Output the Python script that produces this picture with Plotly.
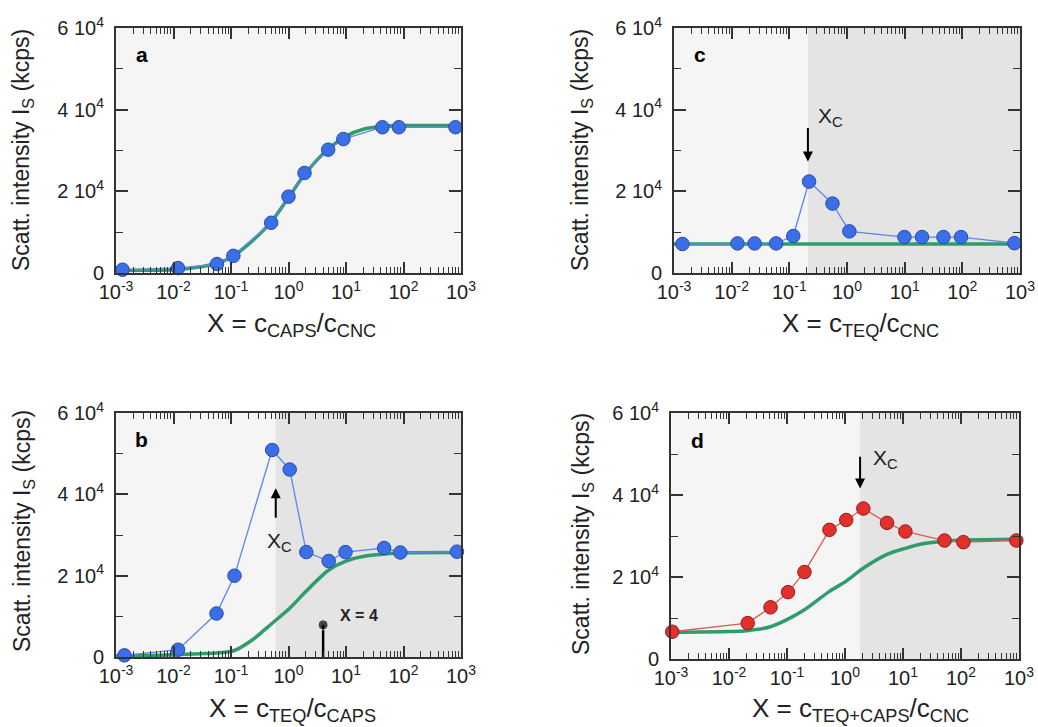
import plotly.graph_objects as go
import math

# ---------------- data ----------------
# Panel a: CAPS / CNC
xa = [0.0013, 0.012, 0.057, 0.11, 0.5, 1.0, 1.9, 4.9, 9.0, 43, 83, 800]
ya = [800, 1200, 2200, 4200, 12300, 18700, 24500, 30200, 32800, 35700, 35700, 35700]
xa_fit = [0.001, 0.003, 0.01, 0.03, 0.06, 0.1, 0.2, 0.5, 1, 2, 5, 10, 20, 50, 100, 300, 1000]
ya_fit = [600, 650, 800, 1500, 2500, 3800, 7000, 12500, 18500, 24500, 30500, 33500, 35200, 36000, 36100, 36100, 36100]

# Panel b: TEQ / CAPS
xb = [0.0014, 0.012, 0.056, 0.115, 0.52, 1.05, 2.04, 5.0, 9.8, 46, 88, 850]
yb = [400, 1800, 10700, 20000, 50900, 46100, 25800, 23600, 25800, 26800, 25700, 25900]
xb_fit = [0.001, 0.003, 0.01, 0.03, 0.056, 0.115, 0.24, 0.52, 1.05, 2, 5, 10, 23, 46, 88, 1000]
yb_fit = [250, 350, 550, 800, 1000, 1600, 4300, 8300, 12000, 16100, 21400, 23600, 24900, 25300, 25600, 25700]

# Panel c: TEQ / CNC
xc = [0.0014, 0.0126, 0.025, 0.059, 0.117, 0.22, 0.56, 1.1, 9.9, 20, 47, 95, 800]
yc = [7100, 7250, 7250, 7250, 9050, 22400, 17000, 10200, 8800, 8800, 8800, 8800, 7300]
xc_fit = [0.001, 1000]
yc_fit = [7100, 7100]

# Panel d: TEQ+CAPS / CNC
xd = [0.00105, 0.021, 0.052, 0.104, 0.2, 0.54, 1.05, 2.07, 5.3, 11, 52, 110, 900]
yd = [6650, 8750, 12600, 16300, 21200, 31500, 33900, 36700, 33200, 31100, 28900, 28500, 28900]
xd_fit = [0.001, 0.01, 0.02, 0.05, 0.1, 0.2, 0.54, 1.05, 2, 5.3, 11, 20, 52, 110, 1000]
yd_fit = [6500, 6700, 6900, 7800, 9600, 12000, 16500, 19000, 22000, 25500, 27000, 28000, 28700, 29000, 29200]

# critical ratios (start of shaded region) and markers
xc_b, xc_c, xc_d = 0.6, 0.21, 1.82
x_marker_b, y_marker_b = 4.0, 7900

# tick labels
x_tickvals = [0.001, 0.01, 0.1, 1, 10, 100, 1000]
x_ticktext = ["10<sup>-3</sup>", "10<sup>-2</sup>", "10<sup>-1</sup>", "10<sup>0</sup>",
              "10<sup>1</sup>", "10<sup>2</sup>", "10<sup>3</sup>"]
x_minor = [m * 10 ** k for k in range(-3, 3) for m in range(2, 10)]
y_tickvals = [0, 20000, 40000, 60000]
y_ticktext = ["0", "2 10<sup>4</sup>", "4 10<sup>4</sup>", "6 10<sup>4</sup>"]
y_minor = [10000, 30000, 50000]

FONT = "Liberation Sans, Arial, Helvetica, sans-serif"
BLUE = "#3a6fe8"
BLUE_EDGE = "#2a4aa8"
BLUE_LINE = "#5d86e8"
RED = "#e2302c"
RED_EDGE = "#8e1c1a"
RED_LINE = "#e05a55"
GREEN = "#2f9c6b"
AXC = "#333333"

# the page body margin is removed (post_script below), so the figure fills the window
W, H = 1038, 727


def px(x):
    return x / W


def py(y):
    return 1 - y / H


fig = go.Figure()

panels = [
    ("a", "x", "y", xa, ya, xa_fit, ya_fit, BLUE, BLUE_EDGE, BLUE_LINE),
    ("c", "x2", "y2", xc, yc, xc_fit, yc_fit, BLUE, BLUE_EDGE, BLUE_LINE),
    ("b", "x3", "y3", xb, yb, xb_fit, yb_fit, BLUE, BLUE_EDGE, BLUE_LINE),
    ("d", "x4", "y4", xd, yd, xd_fit, yd_fit, RED, RED_EDGE, RED_LINE),
]

for name, xr, yr, x, y, xf, yf, col, edge, lcol in panels:
    fig.add_trace(go.Scatter(x=xf, y=yf, mode="lines", xaxis=xr, yaxis=yr,
                             line=dict(color=GREEN, width=3.5, shape="spline", smoothing=0.8),
                             showlegend=False, hoverinfo="skip"))
    fig.add_trace(go.Scatter(x=x, y=y, mode="lines+markers", xaxis=xr, yaxis=yr,
                             line=dict(color=lcol, width=1.3),
                             marker=dict(size=13.5, color=col, line=dict(color=edge, width=1)),
                             cliponaxis=False, showlegend=False))

# X = 4 lollipop in panel b
fig.add_trace(go.Scatter(x=[x_marker_b, x_marker_b], y=[0, y_marker_b], mode="lines+markers",
                         xaxis="x3", yaxis="y3", line=dict(color="black", width=2.5),
                         marker=dict(size=[0, 10], color="black"), showlegend=False))

domains = {
    "a": ([px(116), px(461)], [py(273), py(28)]),
    "c": ([px(674), px(1020)], [py(273), py(28)]),
    "b": ([px(116), px(461)], [py(657), py(413)]),
    "d": ([px(671), px(1019)], [py(659), py(413)]),
}
axis_ids = {"a": ("", ""), "c": ("2", "2"), "b": ("3", "3"), "d": ("4", "4")}

layout = {}
for name, (xd_, yd_) in domains.items():
    xi, yi = axis_ids[name]
    layout["xaxis" + xi] = dict(
        domain=xd_, anchor="y" + yi, type="log", range=[-3, 3], automargin=False,
        tickmode="array", tickvals=x_tickvals, ticktext=x_ticktext,
        ticks="inside", ticklen=11, tickwidth=1.5, tickcolor=AXC,
        showline=True, linecolor=AXC, linewidth=2, mirror="ticks",
        showgrid=False, zeroline=False, ticklabeloverflow="allow",
        tickfont=dict(family=FONT, size=20, color="#222"),
        minor=dict(tickmode="array", tickvals=x_minor, ticks="inside", ticklen=6,
                   tickwidth=1.2, tickcolor=AXC, showgrid=False),
    )
    layout["yaxis" + yi] = dict(
        domain=yd_, anchor="x" + xi, range=[0, 60000], automargin=False,
        tickmode="array", tickvals=y_tickvals, ticktext=y_ticktext,
        ticks="inside", ticklen=12, tickwidth=1.5, tickcolor=AXC,
        showline=True, linecolor=AXC, linewidth=2, mirror="ticks",
        showgrid=False, zeroline=False, ticklabelstandoff=6,
        tickfont=dict(family=FONT, size=20, color="#222"),
        minor=dict(tickmode="array", tickvals=y_minor, ticks="inside", ticklen=7,
                   tickwidth=1.2, tickcolor=AXC, showgrid=False),
    )

shapes = []
for xr, yi, xs in [("x3", "y3", xc_b), ("x2", "y2", xc_c), ("x4", "y4", xc_d)]:
    shapes.append(dict(type="rect", xref=xr, yref=yi + " domain", x0=xs, x1=1000, y0=0, y1=1,
                       fillcolor="#e3e4e3", line=dict(width=0), layer="below"))

annotations = []
# panel letters
for name, (xd_, yd_) in domains.items():
    xi, yi = axis_ids[name]
    annotations.append(dict(text="<b>%s</b>" % name, xref=("x" + xi) + " domain", yref=("y" + yi) + " domain",
                            x=0.075, y=0.89, xanchor="center", yanchor="middle", showarrow=False,
                            font=dict(family=FONT, size=21, color="black")))

ytitle = "Scatt. intensity I<sub>S</sub> (kcps)"
for xp, yp in [(23, 150), (582, 150), (23, 531), (582, 534)]:
    annotations.append(dict(text=ytitle, xref="paper", yref="paper", x=px(xp), y=py(yp),
                            xanchor="center", yanchor="middle",
                            textangle=-90, showarrow=False, font=dict(family=FONT, size=23, color="#222")))

xtitles = [
    ("X = c<sub>CAPS</sub>/c<sub>CNC</sub>", 291, 324),
    ("X = c<sub>TEQ</sub>/c<sub>CNC</sub>", 860, 324),
    ("X = c<sub>TEQ</sub>/c<sub>CAPS</sub>", 292, 709),
    ("X = c<sub>TEQ+CAPS</sub>/c<sub>CNC</sub>", 860, 709),
]
for t, xp, yp in xtitles:
    annotations.append(dict(text=t, xref="paper", yref="paper", x=px(xp), y=py(yp),
                            xanchor="center", yanchor="middle",
                            showarrow=False, font=dict(family=FONT, size=26, color="#222")))

XC = "X<sub>C</sub>"
arrow = dict(showarrow=True, arrowhead=2, arrowsize=1, arrowwidth=2, arrowcolor="black", text="")
# panel c arrow + label
annotations.append(dict(x=math.log10(xc_c), y=27300, ax=math.log10(xc_c), ay=35900, xref="x2", yref="y2",
                        axref="x2", ayref="y2", **arrow))
annotations.append(dict(x=math.log10(0.51), y=38300, xref="x2", yref="y2", text=XC, showarrow=False,
                        xanchor="center", yanchor="middle", font=dict(family=FONT, size=21, color="#222")))
# panel b arrow + label
annotations.append(dict(x=math.log10(xc_b), y=41500, ax=math.log10(xc_b), ay=33900, xref="x3", yref="y3",
                        axref="x3", ayref="y3", **arrow))
annotations.append(dict(x=math.log10(0.69), y=28400, xref="x3", yref="y3", text=XC, showarrow=False,
                        xanchor="center", yanchor="middle", font=dict(family=FONT, size=21, color="#222")))
annotations.append(dict(x=math.log10(17), y=10100, xref="x3", yref="y3", text="<b>X = 4</b>", showarrow=False,
                        xanchor="center", yanchor="middle", font=dict(family=FONT, size=16, color="#222")))
# panel d arrow + label
annotations.append(dict(x=math.log10(xc_d), y=41600, ax=math.log10(xc_d), ay=49700, xref="x4", yref="y4",
                        axref="x4", ayref="y4", **arrow))
annotations.append(dict(x=math.log10(4.9), y=48900, xref="x4", yref="y4", text=XC, showarrow=False,
                        xanchor="center", yanchor="middle", font=dict(family=FONT, size=21, color="#222")))

fig.update_layout(**layout)
fig.update_layout(
    width=W, height=H, margin=dict(l=0, r=0, t=0, b=0, pad=0, autoexpand=False),
    paper_bgcolor="white", plot_bgcolor="#f5f5f5",
    shapes=shapes, annotations=annotations,
    font=dict(family=FONT, color="#222"),
    showlegend=False,
)

fig.write_html("out.html", config={"displayModeBar": False},
               post_script="document.body.style.margin='0';document.body.style.overflow='hidden';")
